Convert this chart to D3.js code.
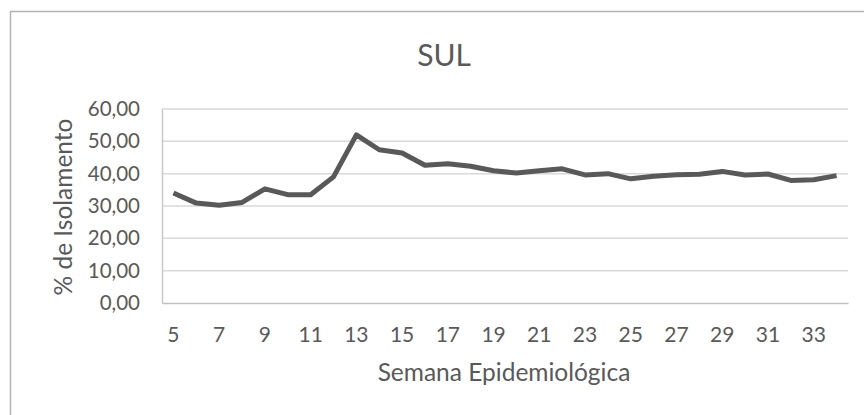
<!DOCTYPE html>
<html>
<head>
<meta charset="utf-8">
<script src="https://cdn.jsdelivr.net/npm/d3@7"></script>
<style>
  body { margin: 0; background: #fff; }
  svg text { font-family: Lato, "Open Sans", sans-serif; fill: #595959; }
</style>
</head>
<body>
<svg id="chart" width="864" height="415"></svg>
<script>
// semanas epidemiologicas 5..34
const weeks = [5, 6, 7, 8, 9, 10, 11, 12, 13, 14, 15, 16, 17, 18, 19, 20, 21, 22, 23, 24, 25, 26, 27, 28, 29, 30, 31, 32, 33, 34];
const isolamento = [34.0, 30.9, 30.2, 31.1, 35.3, 33.5, 33.5, 39.0, 52.0, 47.4, 46.4, 42.6, 43.1, 42.3, 40.9, 40.2, 40.9, 41.5, 39.6, 40.0, 38.4, 39.2, 39.7, 39.8, 40.7, 39.6, 39.9, 37.9, 38.1, 39.4];
const yTicks = [0, 10, 20, 30, 40, 50, 60];

const svg = d3.select("#chart");
const plotL = 162, plotR = 848, plotT = 109, plotB = 303;

// borda do grafico
svg.append("rect")
  .attr("x", 10.5).attr("y", 11.5)
  .attr("width", 900).attr("height", 450)
  .attr("fill", "none").attr("stroke", "#b3b3b3").attr("stroke-width", 1.5);

const x = d3.scaleBand().domain(weeks).range([plotL, plotR]);
const y = d3.scaleLinear().domain([0, 60]).range([plotB, plotT]);

// grade
svg.append("g").selectAll("line")
  .data(yTicks.slice(1))
  .enter().append("line")
  .attr("x1", plotL).attr("x2", plotR)
  .attr("y1", d => y(d)).attr("y2", d => y(d))
  .attr("stroke", "#d9d9d9").attr("stroke-width", 1.5);

// eixo y
const yAxis = svg.append("g")
  .attr("transform", `translate(${plotL},0)`)
  .call(d3.axisLeft(y).tickValues(yTicks).tickSize(0).tickPadding(22)
    .tickFormat(d => d3.format(".2f")(d).replace(".", ",")));
yAxis.select(".domain").attr("stroke", "#c8c8c8").attr("stroke-width", 1.5);
yAxis.selectAll("text").attr("font-size", 20.5).attr("fill", "#595959");

// eixo x
const xAxis = svg.append("g")
  .attr("transform", `translate(0,${plotB})`)
  .call(d3.axisBottom(x).tickValues(weeks.filter(w => w % 2 === 1)).tickSize(0).tickPadding(24));
xAxis.select(".domain").attr("stroke", "#bfbfbf").attr("stroke-width", 1.5);
xAxis.selectAll("text").attr("font-size", 21).attr("fill", "#595959");

const line = d3.line()
  .x((d, i) => x(weeks[i]) + x.bandwidth() / 2)
  .y(d => y(d));

svg.append("path")
  .datum(isolamento)
  .attr("d", line)
  .attr("fill", "none")
  .attr("stroke", "#595959")
  .attr("stroke-width", 5)
  .attr("stroke-linejoin", "round");

svg.append("text")
  .attr("x", 444).attr("y", 66)
  .attr("text-anchor", "middle")
  .attr("font-size", 30)
  .text("SUL");

svg.append("text")
  .attr("x", 504).attr("y", 381)
  .attr("text-anchor", "middle")
  .attr("font-size", 24.5)
  .text("Semana Epidemiológica");

svg.append("text")
  .attr("transform", "translate(72,207) rotate(-90)")
  .attr("text-anchor", "middle")
  .attr("font-size", 24.5)
  .text("% de Isolamento");
</script>
</body>
</html>
